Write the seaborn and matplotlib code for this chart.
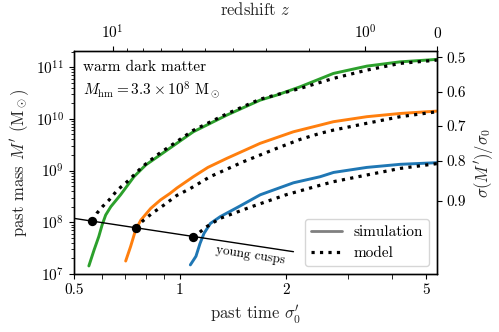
import numpy as np
import matplotlib
matplotlib.use("Agg")
import matplotlib.pyplot as plt
import seaborn as sns
from matplotlib.lines import Line2D
from matplotlib.ticker import FixedLocator, FixedFormatter, NullLocator, NullFormatter

# ---------------- data ----------------
green_sim_x = [0.551, 0.570, 0.588, 0.601, 0.615, 0.636, 0.678, 0.740, 0.799, 0.878, 1.091, 1.358, 1.689, 1.883, 2.193, 2.727, 3.393, 4.218, 5.36]
green_sim_y = [1.43e7, 2.9e7, 5.3e7, 8.9e7, 1.38e8, 2.0e8, 3.4e8, 7.6e8, 1.28e9, 2.0e9, 5.62e9, 1.18e10, 2.30e10, 2.88e10, 4.16e10, 7.55e10, 1.045e11, 1.265e11, 1.41e11]
green_mod_x = [0.564, 0.581, 0.602, 0.629, 0.664, 0.708, 0.748, 0.781, 0.826, 0.870, 1.091, 1.358, 1.689, 2.193, 2.727, 3.393, 4.218, 5.36]
green_mod_y = [1.07e8, 1.5e8, 2.0e8, 2.7e8, 4.2e8, 6.1e8, 8.8e8, 1.18e9, 1.6e9, 2.1e9, 6.0e9, 1.25e10, 2.4e10, 3.87e10, 6.05e10, 8.75e10, 1.18e11, 1.365e11]

orange_sim_x = [0.701, 0.724, 0.748, 0.774, 0.826, 0.880, 0.937, 0.980, 1.091, 1.20, 1.358, 1.689, 2.099, 2.50, 2.727, 3.393, 4.218, 5.36]
orange_sim_y = [1.78e7, 3.4e7, 7.1e7, 1.1e8, 1.86e8, 2.7e8, 3.62e8, 4.6e8, 7.6e8, 1.15e9, 1.72e9, 3.36e9, 5.62e9, 7.57e9, 8.8e9, 1.10e10, 1.27e10, 1.41e10]
orange_mod_x = [0.748, 0.78, 0.834, 0.90, 0.979, 1.07, 1.217, 1.513, 1.883, 2.193, 2.50, 2.727, 3.393, 4.218, 5.36]
orange_mod_y = [7.9e7, 1.03e8, 1.5e8, 2.15e8, 3.3e8, 4.5e8, 7.6e8, 1.48e9, 2.69e9, 4.0e9, 5.24e9, 6.06e9, 8.2e9, 1.10e10, 1.37e10]

blue_sim_x = [1.07, 1.11, 1.14, 1.17, 1.22, 1.30, 1.48, 1.69, 2.10, 2.50, 2.73, 3.39, 4.22, 5.36]
blue_sim_y = [1.5e7, 2.2e7, 3.9e7, 6.1e7, 9.5e7, 1.28e8, 2.06e8, 3.4e8, 5.8e8, 7.6e8, 9.2e8, 1.15e9, 1.32e9, 1.42e9]
blue_mod_x = [1.09, 1.19, 1.30, 1.58, 2.0, 2.5, 2.73, 3.39, 4.22, 5.36]
blue_mod_y = [5.1e7, 8.2e7, 1.19e8, 1.95e8, 3.4e8, 5.2e8, 6.1e8, 8.2e8, 1.10e9, 1.36e9]

cusp_x = [0.5, 2.1]
cusp_y = [1.19e8, 2.7e7]

x_today = 5.37          # past time at z = 0 (right edge)
omega_m = 0.27
z_major = [10, 1, 0]
z_major_labels = ["$10^1$", "$10^0$", "0"]
z_minor = [2, 3, 4, 5, 6, 7, 8, 9]

sigma_ticks = [0.5, 0.6, 0.7, 0.8, 0.9]
sigma_tick_mass = [1.55e11, 3.31e10, 7.24e9, 1.55e9, 2.57e8]

colors = {"green": "#2ca02c", "orange": "#ff7f0e", "blue": "#1f77b4"}

# ---------------- style ----------------
sns.set_style("ticks")
plt.rcParams.update({
    "font.family": ["cmr10"],
    "mathtext.fontset": "cm",
    "axes.formatter.use_mathtext": True,
    "axes.unicode_minus": False,
    "axes.linewidth": 0.9,
    "xtick.direction": "out",
    "ytick.direction": "out",
    "xtick.major.size": 3.5,
    "ytick.major.size": 3.5,
    "xtick.minor.size": 2.0,
    "ytick.minor.size": 2.0,
    "xtick.color": "black",
    "ytick.color": "black",
    "axes.edgecolor": "black",
    "text.color": "black",
})

fig = plt.figure(figsize=(4.99, 3.32), dpi=100)
ax = fig.add_axes([0.1483, 0.1747, 0.7275, 0.6717])
ax.set_xscale("log")
ax.set_yscale("log")

for name, sx, sy in [("green", green_sim_x, green_sim_y),
                     ("orange", orange_sim_x, orange_sim_y),
                     ("blue", blue_sim_x, blue_sim_y)]:
    sns.lineplot(x=sx, y=sy, ax=ax, color=colors[name], lw=2.1, sort=False,
                 estimator=None, zorder=2)

sns.lineplot(x=cusp_x, y=cusp_y, ax=ax, color="black", lw=1.0, sort=False,
             estimator=None, zorder=3)

for mx, my in [(green_mod_x, green_mod_y), (orange_mod_x, orange_mod_y),
               (blue_mod_x, blue_mod_y)]:
    sns.lineplot(x=mx, y=my, ax=ax, color="black", lw=2.3, linestyle=":",
                 sort=False, estimator=None, zorder=4)

dots_x = [green_mod_x[0], orange_mod_x[0], blue_mod_x[0]]
dots_y = [green_mod_y[0], orange_mod_y[0], blue_mod_y[0]]
sns.scatterplot(x=dots_x, y=dots_y, ax=ax, color="black", s=45, zorder=5,
                edgecolor="black", linewidth=0)

ax.set_xlim(0.5, x_today)
ax.set_ylim(1e7, 2.05e11)

ax.xaxis.set_major_locator(FixedLocator([0.5, 1, 2, 5]))
ax.xaxis.set_major_formatter(FixedFormatter(["0.5", "1", "2", "5"]))
ax.xaxis.set_minor_locator(FixedLocator([0.6, 0.7, 0.8, 0.9, 3, 4]))
ax.xaxis.set_minor_formatter(NullFormatter())
ax.tick_params(axis="x", which="minor", length=3.5)
ax.tick_params(axis="both", labelsize=11)

ax.set_xlabel(r"past time $\sigma_0'$", fontsize=12)
ax.set_ylabel(r"past mass $M'$ ($\mathrm{M}_\odot$)", fontsize=12)

ax.text(0.5 * 1.06, 1.0e11, "warm dark matter", fontsize=11, va="center")
ax.text(0.5 * 1.06, 3.6e10, r"$M_{\rm hm} = 3.3\times10^8\ \mathrm{M}_\odot$",
        fontsize=11, va="center")
ax.text(1.58, 2.3e7, "young cusps", fontsize=9.5, rotation=-8.7,
        ha="center", va="center")

handles = [Line2D([], [], color="gray", lw=2.0),
           Line2D([], [], color="black", lw=2.3, linestyle=":")]
leg = ax.legend(handles, ["simulation", "model"], loc="lower right",
                fontsize=11, frameon=True, fancybox=True, framealpha=0.8,
                edgecolor="#cccccc", borderaxespad=0.5, handlelength=2.0)

# ---------------- top axis: redshift ----------------
def growth(z):
    z = np.asarray(z, dtype=float)
    a = 1.0 / (1.0 + z)
    om = omega_m / (omega_m + (1 - omega_m) * a ** 3)
    ol = 1 - om
    g = 2.5 * om / (om ** (4 / 7) - ol + (1 + om / 2) * (1 + ol / 70))
    return a * g

def z_to_x(z):
    return x_today * growth(z) / growth(0.0)

axt = ax.twiny()
axt.set_xscale("log")
axt.set_xlim(ax.get_xlim())
axt.xaxis.set_major_locator(FixedLocator(z_to_x(z_major)))
axt.xaxis.set_major_formatter(FixedFormatter(z_major_labels))
axt.xaxis.set_minor_locator(FixedLocator(z_to_x(z_minor)))
axt.xaxis.set_minor_formatter(NullFormatter())
axt.tick_params(axis="x", labelsize=11)
axt.set_xlabel(r"redshift $z$", fontsize=12, labelpad=6)

# ---------------- right axis: sigma(M')/sigma_0 ----------------
axr = ax.twinx()
axr.set_yscale("log")
axr.set_ylim(ax.get_ylim())
axr.yaxis.set_major_locator(FixedLocator(sigma_tick_mass))
axr.yaxis.set_major_formatter(FixedFormatter([f"{s:.1f}" for s in sigma_ticks]))
axr.yaxis.set_minor_locator(NullLocator())
axr.tick_params(axis="y", labelsize=11)
axr.set_ylabel(r"$\sigma(M')/\sigma_0$", fontsize=12)

fig.savefig("out.png", dpi=100)
